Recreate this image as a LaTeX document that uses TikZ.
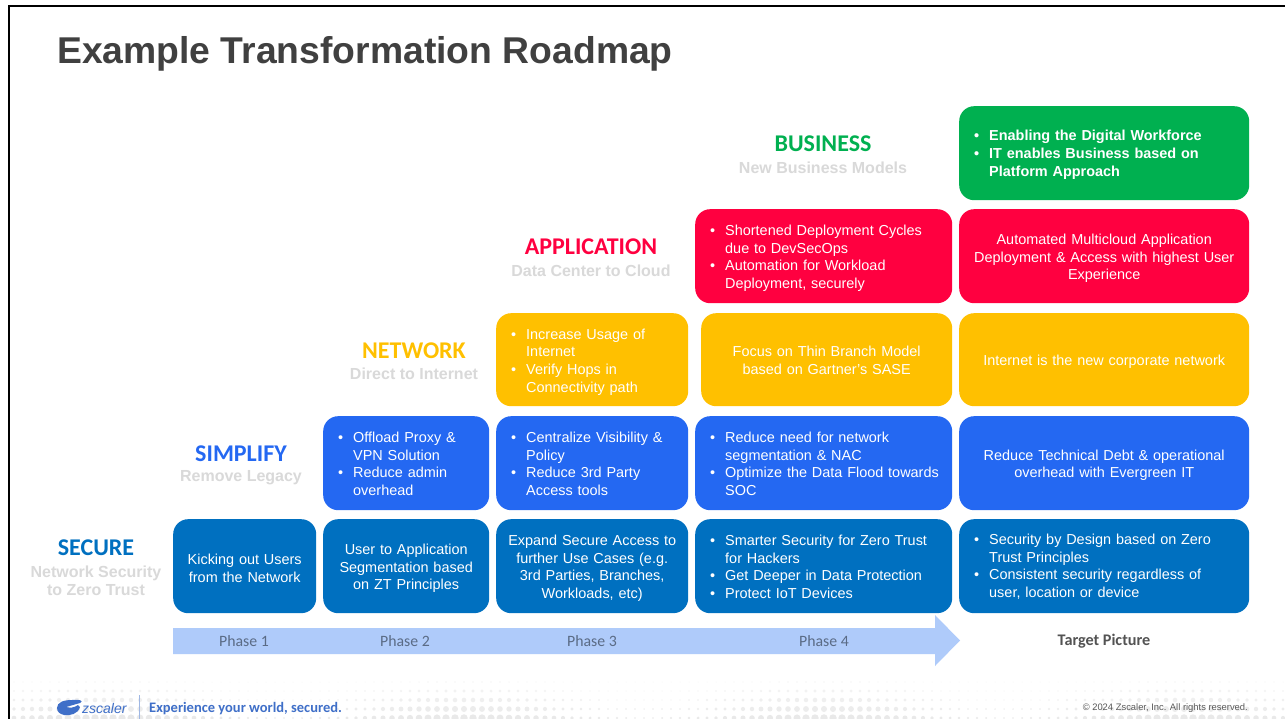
\documentclass[tikz,border=0pt]{standalone}
\usepackage{fontspec}
\setmainfont{Liberation Sans}
\newfontfamily\carlito{Carlito}
\definecolor{cSecure}{HTML}{0070C0}
\definecolor{cSimplify}{HTML}{2468F2}
\definecolor{cNetwork}{HTML}{FFC000}
\definecolor{cApp}{HTML}{FF0040}
\definecolor{cBiz}{HTML}{00B050}
\definecolor{cTitle}{HTML}{404040}
\definecolor{cSub}{HTML}{D9D9D9}
\definecolor{cArrow}{HTML}{AFCBFA}
\definecolor{cPhase}{HTML}{5A6B85}
\definecolor{cBrand}{HTML}{3F6FC8}
\newcommand{\bl}[1]{\par\noindent\hangindent=15pt\hangafter=1\makebox[15pt][l]{•}#1\par}
% bullet card: optional = space added below the text (moves text up by half)
\newcommand{\rbox}[8][4pt]{%
  \pgfmathsetlengthmacro{\bw}{#5-#3}%
  \pgfmathsetlengthmacro{\bh}{#6-#4}%
  \pgfmathsetlengthmacro{\tw}{#5-#3-30}%
  \node[cardbox, inner xsep=15pt, fill=#7, minimum width=\bw, minimum height=\bh, text width=\tw, anchor=north west] (#2) at (#3,#4) {\rightskip=-14pt plus 0pt\hyphenpenalty=10000 #8\vspace*{#1}};}
% centred card: optional = space added above the text (moves text down by half)
\newcommand{\cbox}[8][-3pt]{%
  \pgfmathsetlengthmacro{\bw}{#5-#3}%
  \pgfmathsetlengthmacro{\bh}{#6-#4}%
  \pgfmathsetlengthmacro{\tw}{#5-#3-6}%
  \node[cardbox, inner xsep=3pt, fill=#7, minimum width=\bw, minimum height=\bh, text width=\tw, anchor=north west] (#2) at (#3,#4) {\vspace*{#1}\par\centering\hyphenpenalty=10000 #8\par};}
\tikzset{
  x=1pt, y=-1pt,
  cardbox/.style={rounded corners=15pt, inner ysep=0pt, text=white, align=left,
    font=\fontsize{14.45}{17.7}\selectfont},
  headlabel/.style={font=\carlito\bfseries\fontsize{24}{26}\selectfont, anchor=center},
  sublabel/.style={font=\bfseries\fontsize{16}{18}\selectfont, text=cSub, align=center, anchor=center},
  phaselabel/.style={font=\carlito\fontsize{15.8}{17}\selectfont, text=cPhase, anchor=center},
}
\begin{document}
\begin{tikzpicture}
\useasboundingbox (0,0) rectangle (1285,719);
\fill[white] (0,0) rectangle (1285,719);
% footer dots
\foreach \r in {0,...,4}{
  \foreach \c in {0,...,141}{
    \pgfmathsetmacro{\xx}{14+\c*9}
    \pgfmathsetmacro{\yy}{682+\r*9}
    \pgfmathsetmacro{\rad}{max(0.5,(0.7+\r*0.6)*(0.75+0.45*sin(\c*9)))}
    \pgfmathsetmacro{\shade}{4+\r*1.2}
    \fill[black!\shade] (\xx,\yy) circle[radius=\rad];
  }
}
% frame
\draw[black,line width=2pt] (9,719) -- (9,6) -- (1285,6);
% title
\node[anchor=west,inner sep=0pt,font=\bfseries\fontsize{37.3}{40}\selectfont,text=cTitle] (title) at (57,54) {Example Transformation Roadmap};
% arrow
\fill[cArrow] (173,628) -- (935,628) -- (935,615) -- (960,640.5) -- (935,666) -- (935,654) -- (173,654) -- cycle;
\node[phaselabel] (p1) at (244,641) {Phase 1};
\node[phaselabel] (p2) at (405,641) {Phase 2};
\node[phaselabel] (p3) at (592,641) {Phase 3};
\node[phaselabel] (p4) at (824,641) {Phase 4};
\node[font=\carlito\bfseries\fontsize{16.2}{18}\selectfont,text=cTitle!90] (target) at (1104,641) {Target Picture};
% headings
\node[headlabel,text=cSecure] (hsec) at (96,548) {SECURE};
\node[sublabel] (ssec) at (96,581) {Network Security\\to Zero Trust};
\node[headlabel,text=cSimplify] (hsim) at (241,454) {SIMPLIFY};
\node[sublabel] (ssim) at (241,478) {Remove Legacy};
\node[headlabel,text=cNetwork] (hnet) at (414,351) {NETWORK};
\node[sublabel] (snet) at (414,374) {Direct to Internet};
\node[headlabel,text=cApp] (happ) at (591,247) {APPLICATION};
\node[sublabel] (sapp) at (591,271) {Data Center to Cloud};
\node[headlabel,text=cBiz] (hbiz) at (823,144) {BUSINESS};
\node[sublabel] (sbiz) at (823,168) {New Business Models};
% secure row
\cbox{a1}{173}{519}{316}{613}{cSecure}{Kicking out Users\\from the Network}
\cbox{a2}{323}{519}{489}{613}{cSecure}{User to Application\\Segmentation based\\on ZT Principles}
\cbox{a3}{496}{519}{688}{613}{cSecure}{Expand Secure Access to\\further Use Cases (e.g.\\3rd Parties, Branches,\\Workloads, etc)}
\rbox[6pt]{a4}{695}{519}{952}{613}{cSecure}{\bl{Smarter Security for Zero Trust\newline for Hackers}\bl{Get Deeper in Data Protection}\bl{Protect IoT Devices}}
\rbox[6pt]{a5}{959}{519}{1249}{613}{cSecure}{\bl{Security by Design based on Zero\newline Trust Principles}\bl{Consistent security regardless of\newline user, location or device}}
% simplify row
\rbox[6pt]{b2}{323}{416}{489}{510}{cSimplify}{\bl{Offload Proxy \&\newline VPN Solution}\bl{Reduce admin\newline overhead}}
\rbox[6pt]{b3}{496}{416}{688}{510}{cSimplify}{\bl{Centralize Visibility \&\newline Policy}\bl{Reduce 3rd Party\newline Access tools}}
\rbox[6pt]{b4}{695}{416}{952}{510}{cSimplify}{\bl{Reduce need for network\newline segmentation \& NAC}\bl{Optimize the Data Flood towards\newline SOC}}
\cbox{b5}{959}{416}{1249}{510}{cSimplify}{Reduce Technical Debt \& operational\\overhead with Evergreen IT}
% network row
\rbox[3pt]{c3}{496}{313}{688}{406}{cNetwork}{\bl{Increase Usage of\newline Internet}\bl{Verify Hops in\newline Connectivity path}}
\cbox[-6pt]{c4}{701}{313}{952}{406}{cNetwork}{Focus on Thin Branch Model\\based on Gartner's SASE}
\cbox{c5}{959}{313}{1249}{406}{cNetwork}{Internet is the new corporate network}
% application row
\rbox[3pt]{d4}{695}{209}{952}{303}{cApp}{\bl{Shortened Deployment Cycles\newline due to DevSecOps}\bl{Automation for Workload\newline Deployment, securely}}
\cbox{d5}{959}{209}{1249}{303}{cApp}{Automated Multicloud Application\\Deployment \& Access with highest User\\Experience}
% business
\rbox[4pt]{e5}{959}{106}{1249}{200}{cBiz}{\bfseries\bl{Enabling the Digital Workforce}\bl{IT enables Business based on\newline Platform Approach}}
% footer
\fill[cBrand] (57,708) .. controls (57,702) and (64,700) .. (72,700) .. controls (80,699) and (84,701) .. (80,703) -- (66,707) .. controls (70,708) and (74,708) .. (78,705) -- (80,707) .. controls (78,714) and (70,716) .. (64,715) .. controls (60,714) and (57,712) .. (57,708) -- cycle;
\node[anchor=west,inner sep=0pt,font=\itshape\fontsize{14}{15}\selectfont,text=cBrand] (logo) at (82,708) {zscaler};
\draw[cBrand!50,line width=0.7pt] (139,695) -- (139,719);
\node[anchor=west,inner sep=0pt,font=\carlito\bfseries\fontsize{14.5}{16}\selectfont,text=cBrand] (slogan) at (149,708.5) {Experience your world, secured.};
\node[anchor=east,inner sep=0pt,font=\fontsize{9.4}{10}\selectfont,text=black!65] (copy) at (1248,708.5) {© 2024  Zscaler, Inc. All rights reserved.};
\end{tikzpicture}
\end{document}
